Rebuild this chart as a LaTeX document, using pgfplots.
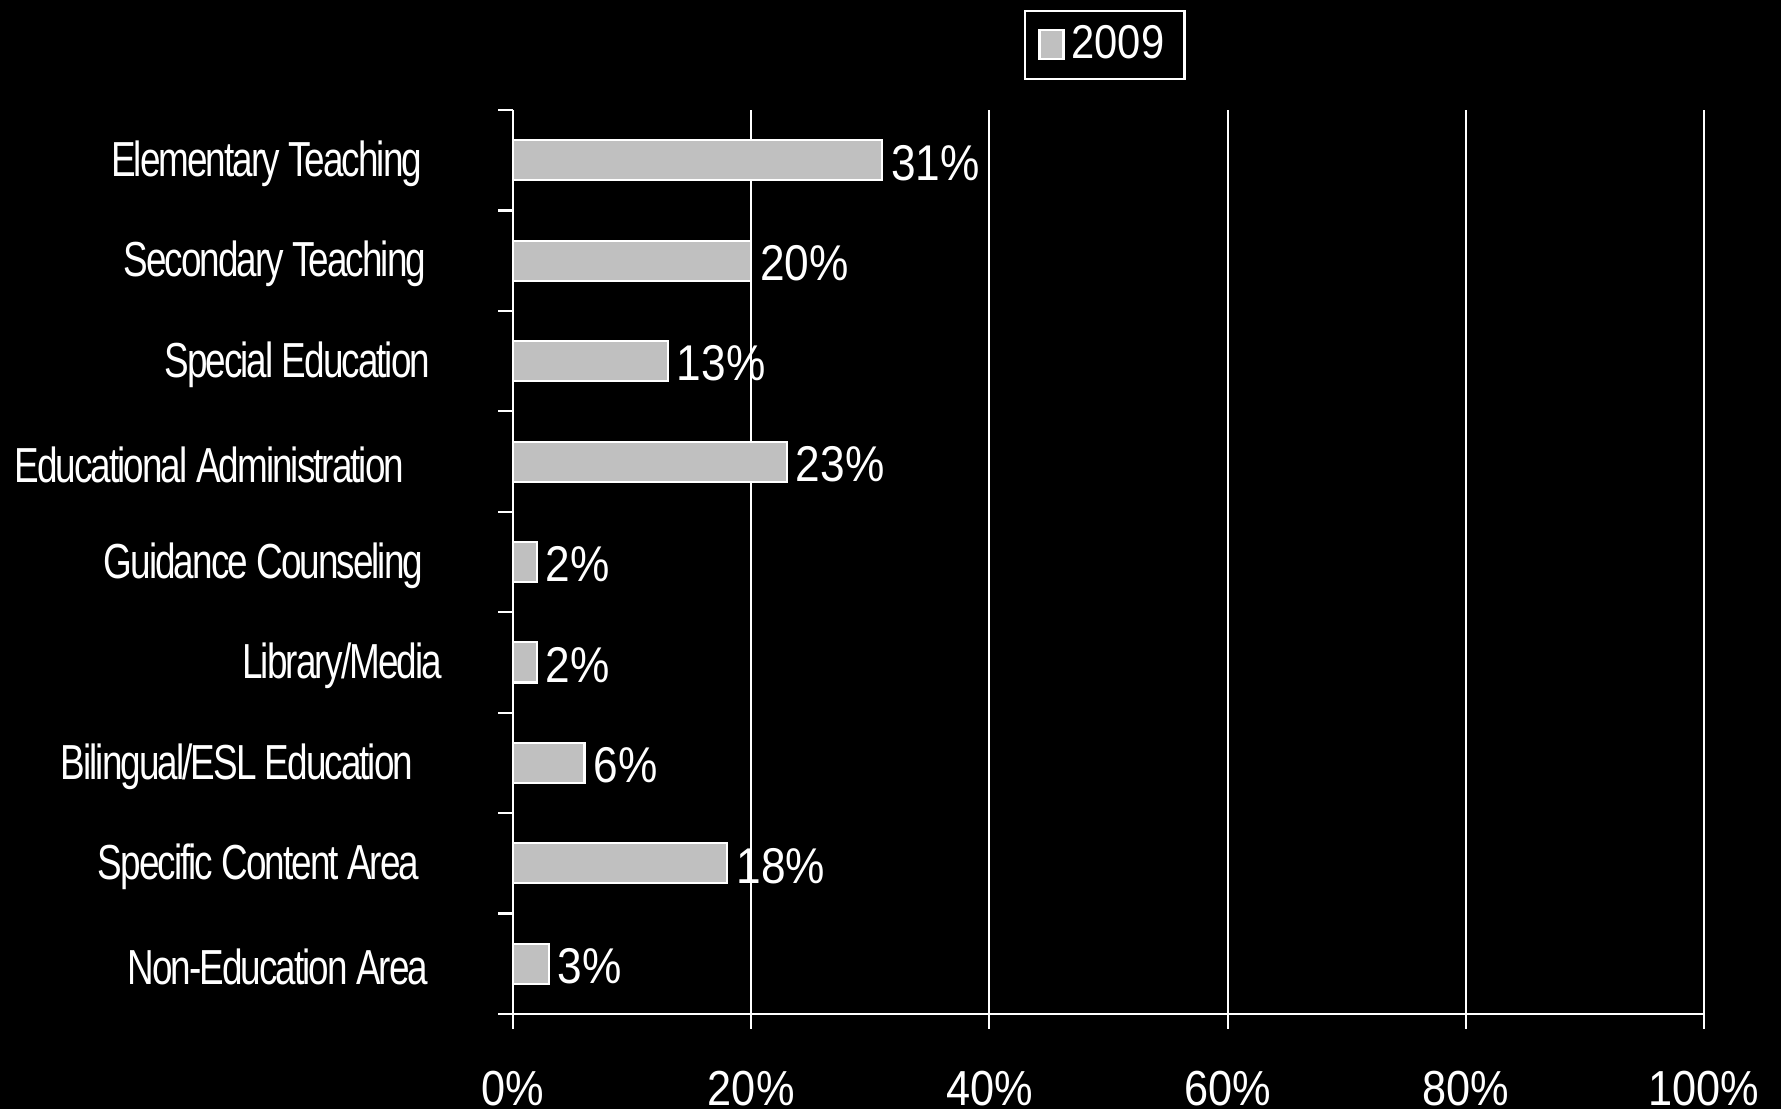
\documentclass[border=0pt]{standalone}
\usepackage{pgfplots}
\pgfplotsset{compat=1.18}
\usepackage{fontspec}
\setmainfont{Liberation Sans}[FakeStretch=0.88]
\newfontfamily\catfont{Liberation Sans}[FakeStretch=0.75, LetterSpace=-4]
\definecolor{barfill}{RGB}{192,192,192}
\begin{document}
\begin{tikzpicture}
\clip (0,0) rectangle (178.1mm,110.9mm);
\fill[black] (0,0) rectangle (178.1mm,110.9mm);
\begin{axis}[
  at={(51.3mm,9.5mm)}, anchor=south west,
  scale only axis, width=119.1mm, height=90.4mm,
  xbar, bar width=4mm,
  xmin=0, xmax=100, ymin=-0.5, ymax=8.5,
  axis lines=left,
  axis line style={-, white, line width=0.6pt},
  xtick={0,20,40,60,80,100},
  xticklabels={0\%,20\%,40\%,60\%,80\%,100\%},
  ytick={-0.5,0.5,...,8.5},
  yticklabels={},
  extra y ticks={0,1,2,3,4,5,6,7,8},
  extra y tick labels={
    {Non-Education Area\hspace*{8.4mm}},
    {Specific Content Area\hspace*{9.3mm}},
    {Bilingual/ESL Education\hspace*{9.9mm}},
    {Library/Media\hspace*{7.0mm}},
    {Guidance Counseling\hspace*{8.9mm}},
    {Educational Administration\hspace*{10.8mm}},
    {Special Education\hspace*{8.2mm}},
    {Secondary Teaching\hspace*{8.6mm}},
    {Elementary Teaching\hspace*{9.0mm}}},
  extra y tick style={major tick length=0pt, tick style={draw=none},
    yticklabel style={font=\catfont\fontsize{14}{16}\selectfont, text=white, anchor=east, inner sep=0pt, yshift=-0.35mm}},
  tick align=outside,
  major tick length=1.5mm,
  tick style={draw=white, line width=0.6pt},
  xmajorgrids,
  major grid style={white, line width=0.6pt},
  xticklabel style={font=\fontsize{14}{16}\selectfont, text=white, anchor=north, inner sep=0pt, yshift=-4.1mm},
  nodes near coords={\pgfmathprintnumber[assume math mode=true]{\pgfplotspointmeta}\%},
  every node near coord/.append style={font=\fontsize{14.3}{16}\selectfont, text=white, anchor=west, inner sep=0.6mm, yshift=-0.25mm, xshift=0.2mm},
  legend style={at={(axis description cs:0.497,1.0720)}, anchor=center, fill=black, draw=white, line width=0.6pt, text=white, font=\fontsize{13.5}{14}\selectfont, inner xsep=1.3mm, inner ysep=0.8mm},
  legend image code/.code={\draw[fill=barfill, draw=white, line width=0.6pt] (0mm,-1.45mm) rectangle (2.4mm,1.45mm);},
]
\addplot[fill=barfill, draw=white, line width=0.6pt] coordinates {
  (3,0) (18,1) (6,2) (2,3) (2,4) (23,5) (13,6) (20,7) (31,8)
};
\addlegendentry{2009}
\end{axis}
\end{tikzpicture}
\end{document}
